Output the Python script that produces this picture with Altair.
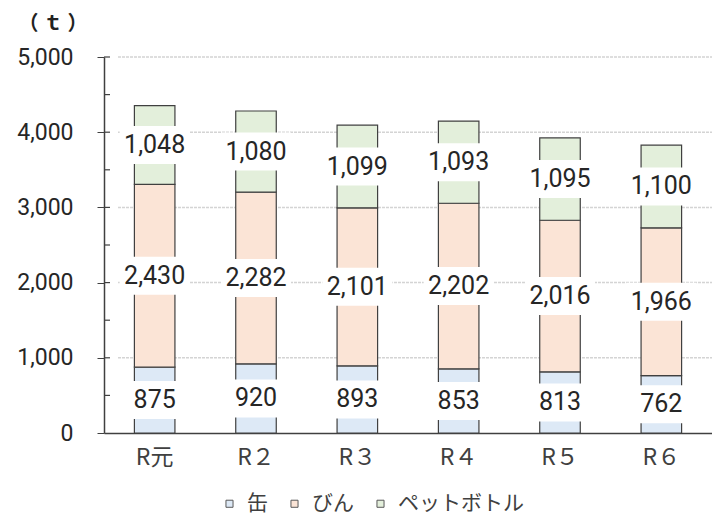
import altair as alt
import pandas as pd

years = ["R元", "R２", "R３", "R４", "R５", "R６"]
series = ["缶", "びん", "ペットボトル"]
kan = [875, 920, 893, 853, 813, 762]
bin_ = [2430, 2282, 2101, 2202, 2016, 1966]
pet = [1048, 1080, 1099, 1093, 1095, 1100]
colors = ["#dde9f6", "#fbe4d6", "#e3efdb"]
grid_vals = [1000, 2000, 3000, 4000, 5000]
major_vals = [0, 1000, 2000, 3000, 4000, 5000]
minor_vals = [500, 1000, 1500, 2000, 2500, 3000, 3500, 4000, 4500, 5000]

rows = []
for i, y in enumerate(years):
    base = 0
    for s, vals in zip(series, [kan, bin_, pet]):
        v = vals[i]
        lab = f"{v:,}"
        rows.append({"year": y, "series": s, "lo": base, "hi": base + v,
                     "mid": base + v / 2, "label": lab,
                     "boxw": 48 if len(lab) <= 3 else 70})
        base += v
df = pd.DataFrame(rows)
gdf = pd.DataFrame({"v": grid_vals})
mdf = pd.DataFrame({"v": minor_vals})

NUMFONT = "Roboto"
JPFONT = "Noto Sans CJK JP"

yscale = alt.Scale(domain=[0, 5000], nice=False)
xscale = alt.Scale(domain=years, paddingInner=0.6, paddingOuter=0.3)

yaxis = alt.Axis(title="（ ｔ ）", titleAngle=0, titleAlign="left",
                 titleBaseline="middle", titleX=-86, titleY=-34,
                 titleFont=JPFONT, titleFontSize=20, titleFontWeight="bold",
                 titleColor="#222222",
                 values=major_vals, grid=False,
                 labelExpr="format(datum.value, ',.0f')",
                 labelFont=NUMFONT, labelFontSize=23, labelColor="#262626",
                 labelPadding=24, tickSize=7, tickColor="#404040",
                 domainColor="#404040", domainWidth=1.5)
xaxis = alt.Axis(title=None, labelAngle=0, ticks=False, domainColor="#404040",
                 domainWidth=1.5, labelFont=JPFONT, labelFontSize=23,
                 labelColor="#404040", labelPadding=13)

grid = alt.Chart(gdf).mark_rule(color="#d4d4d4", strokeWidth=1.5, strokeDash=[3, 1]).encode(
    y=alt.Y("v:Q", scale=yscale, axis=yaxis),
    x=alt.value(14), x2=alt.value(608),
)

minor = alt.Chart(mdf).mark_rule(color="#404040", strokeWidth=1.2).encode(
    y=alt.Y("v:Q", scale=yscale, axis=yaxis),
    x=alt.value(0), x2=alt.value(6),
)

bars = alt.Chart(df).mark_bar(stroke="#404040", strokeWidth=1.2).encode(
    x=alt.X("year:N", scale=xscale, sort=years, axis=xaxis),
    y=alt.Y("lo:Q", scale=yscale, axis=yaxis),
    y2="hi:Q",
    color=alt.Color("series:N", scale=alt.Scale(domain=series, range=colors),
                    legend=alt.Legend(title=None, orient="none", direction="horizontal",
                                      legendX=115, legendY=436, symbolType="square",
                                      symbolSize=50, symbolStrokeColor="#595959",
                                      symbolStrokeWidth=1, labelFont=JPFONT,
                                      labelFontSize=21, labelColor="#404040",
                                      labelOffset=7, columnPadding=16)),
    order=alt.Order("lo:Q"),
)

boxes = alt.Chart(df).mark_tick(color="white", thickness=38, opacity=1).encode(
    x=alt.X("year:N", scale=xscale, sort=years, axis=xaxis),
    y=alt.Y("mid:Q", scale=yscale, axis=yaxis),
    size=alt.Size("boxw:Q", scale=None, legend=None),
)

texts = alt.Chart(df).mark_text(font=NUMFONT, fontSize=25, color="#262626",
                                baseline="middle").encode(
    x=alt.X("year:N", scale=xscale, sort=years, axis=xaxis),
    y=alt.Y("mid:Q", scale=yscale, axis=yaxis),
    text="label:N",
)

chart = alt.layer(grid, minor, bars, boxes, texts).properties(
    width=608, height=376,
    padding={"left": 96, "top": 49, "right": 0, "bottom": 83},
    autosize=alt.AutoSizeParams(type="none"),
).configure_view(stroke=None)

chart.save("out.html", embed_options={"renderer": "svg", "actions": False})
